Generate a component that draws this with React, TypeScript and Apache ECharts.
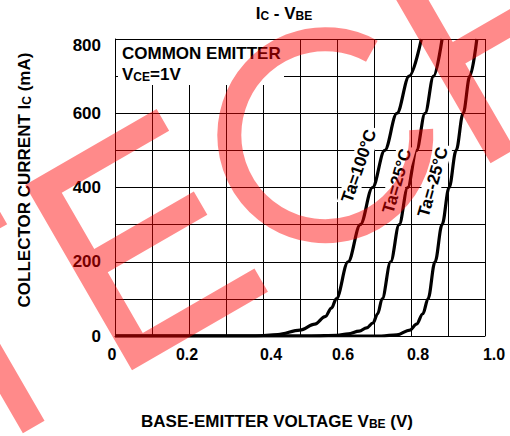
import React, { useEffect, useRef } from 'react';
import * as echarts from 'echarts';

const FONT = '"Liberation Sans", Arial, Helvetica, sans-serif';

// ---- data ----
const xTickLabels = ['0', '0.2', '0.4', '0.6', '0.8', '1.0'];
const yTickLabels = ['0', '200', '400', '600', '800'];
const seriesNames = ['Ta=100°C', 'Ta=25°C', 'Ta=-25°C'];

const vbe100 = [0, 0.38, 0.44, 0.5, 0.54, 0.568, 0.585, 0.598, 0.63, 0.663, 0.696, 0.729, 0.762, 0.795, 0.828];
const ic100 = [0, 0, 4, 16, 32, 52, 75, 100, 200, 300, 400, 500, 600, 700, 800];

const vbe25 = [0, 0.53, 0.6, 0.63, 0.66, 0.68, 0.697, 0.71, 0.722, 0.745, 0.768, 0.791, 0.815, 0.838, 0.861, 0.884];
const ic25 = [0, 0, 2, 6, 13, 22, 35, 60, 100, 200, 300, 400, 500, 600, 700, 800];

const vbeM25 = [0, 0.72, 0.762, 0.797, 0.815, 0.832, 0.846, 0.865, 0.884, 0.903, 0.922, 0.941, 0.959, 0.978];
const icM25 = [0, 0, 3, 16, 32, 60, 100, 200, 300, 400, 500, 600, 700, 800];

// ---- styling helpers (not data) ----
const xLabelPad = [
  [0, 6, 0, 0],
  [0, 4, 0, 0],
  [0, 0, 0, 16],
  [0, 0, 0, 12],
  [0, 0, 0, 14],
  [0, 0, 0, 18],
];

// watermark letters in a rotated letter frame
const WM_FILL = 'rgba(255,0,0,0.46)';
const C30 = Math.cos(Math.PI / 6);
const S30 = 0.5;
const wmPt = (p: number[]) => [25 + p[0] * C30 + p[1] * S30, 185 - p[0] * S30 + p[1] * C30];
const WM_T = [[-189, 0], [-35, 0], [-35, 25], [-101, 25], [-101, 214], [-126, 214], [-126, 25], [-189, 25]];
const WM_E = [[0, 0], [152, 0], [152, 25], [28, 25], [28, 90], [143, 90], [143, 117], [28, 117], [28, 187], [157, 187], [157, 214], [0, 214]];
const WM_H = [[414, -20], [442, -20], [442, 90], [640, 90], [640, 115], [442, 115], [442, 214], [414, 214]];

const zip = (xs: number[], ys: number[]) => xs.map((x, i) => [x, ys[i]]);

export default function App() {
  const ref = useRef<HTMLDivElement>(null);

  useEffect(() => {
    if (!ref.current) return;
    const chart = echarts.init(ref.current, null, { renderer: 'svg' });
    const D = Math.PI / 180;
    const cC = wmPt([285, 107]);

    const richX: Record<string, any> = {};
    xLabelPad.forEach((p, i) => {
      richX['n' + i] = { padding: p, fontSize: 16, fontWeight: 'bold', fontFamily: FONT, color: '#000' };
    });

    const lineSeries = [zip(vbe100, ic100), zip(vbe25, ic25), zip(vbeM25, icM25)].map((d, i) => ({
      type: 'line',
      name: seriesNames[i],
      data: d,
      showSymbol: false,
      smooth: 0.35,
      smoothMonotone: 'x',
      lineStyle: { color: '#000', width: 3.2 },
      z: 2,
      silent: true,
    }));

    const labelPos = [
      [359, 166, 71],
      [397, 181, 74],
      [433, 182, 74],
    ];

    const sub = (big: number, small: number) => ({
      b: { fontSize: big, fontWeight: 'bold', fontFamily: FONT, fill: '#000', verticalAlign: 'bottom' },
      s: { fontSize: small, fontWeight: 'bold', fontFamily: FONT, fill: '#000', verticalAlign: 'bottom' },
    });

    const option: any = {
      animation: false,
      grid: { left: 115, top: 39, right: 25, bottom: 100 },
      xAxis: {
        type: 'value',
        min: 0,
        max: 1,
        interval: 0.1,
        axisLine: { show: true, lineStyle: { color: '#000', width: 1 } },
        axisTick: { show: false },
        splitLine: { show: true, lineStyle: { color: '#000', width: 1 } },
        axisLabel: {
          margin: 10,
          fontSize: 16,
          fontWeight: 'bold',
          fontFamily: FONT,
          color: '#000',
          formatter: (v: number) => {
            const i = Math.round(v * 10);
            if (i % 2) return '';
            const k = i / 2;
            return `{n${k}|${xTickLabels[k]}}`;
          },
          rich: richX,
        },
      },
      yAxis: {
        type: 'value',
        min: 0,
        max: 800,
        interval: 100,
        axisLine: { show: true, lineStyle: { color: '#000', width: 1 } },
        axisTick: { show: false },
        splitLine: { show: true, lineStyle: { color: '#000', width: 1 } },
        axisLabel: {
          margin: 14,
          fontSize: 17,
          fontWeight: 'bold',
          fontFamily: FONT,
          color: '#000',
          formatter: (v: number) => {
            if (v % 200) return '';
            const s = yTickLabels[v / 200];
            return v === 800 ? `{t|${s}}` : s;
          },
          rich: {
            t: { padding: [12, 0, 0, 0], fontSize: 17, fontWeight: 'bold', fontFamily: FONT, color: '#000' },
          },
        },
      },
      series: lineSeries,
      graphic: [
        // box masking grid behind legend text
        { type: 'rect', shape: { x: 118, y: 40, width: 166, height: 45 }, style: { fill: '#fff' }, z: 1, silent: true },
        {
          type: 'text', x: 122, y: 53, z: 5,
          style: { text: 'COMMON EMITTER', font: `bold 17px ${FONT}`, fill: '#000', align: 'left', verticalAlign: 'middle', textAlign: 'left', textVerticalAlign: 'middle' },
        },
        {
          type: 'text', x: 122, y: 74, z: 5,
          style: {
            text: '{b|V}{s|CE}{b|=1V}', fill: '#000', align: 'left', verticalAlign: 'middle', textAlign: 'left', textVerticalAlign: 'middle',
            rich: sub(17, 12),
          },
        },
        // title
        {
          type: 'text', x: 284, y: 13, z: 5,
          style: {
            text: '{b|I}{s|C}{b| - V}{s|BE}', fill: '#000', align: 'center', verticalAlign: 'middle', textAlign: 'center', textVerticalAlign: 'middle',
            rich: sub(17, 12),
          },
        },
        // y axis name
        {
          type: 'text', x: 24, y: 180, rotation: Math.PI / 2, z: 5,
          style: {
            text: '{b|COLLECTOR CURRENT I}{s|C}{b| (mA)}', fill: '#000', align: 'center', verticalAlign: 'middle', textAlign: 'center', textVerticalAlign: 'middle',
            rich: sub(17, 12),
          },
        },
        // x axis name
        {
          type: 'text', x: 277, y: 421, z: 5,
          style: {
            text: '{b|BASE-EMITTER VOLTAGE V}{s|BE}{b| (V)}', fill: '#000', align: 'center', verticalAlign: 'middle', textAlign: 'center', textVerticalAlign: 'middle',
            rich: sub(17, 12),
          },
        },
        // curve labels
        ...seriesNames.map((n, i) => ({
          type: 'text', x: labelPos[i][0], y: labelPos[i][1], rotation: labelPos[i][2] * D, z: 5,
          style: {
            text: n, font: `bold 17px ${FONT}`, fill: '#000', align: 'center', verticalAlign: 'middle', textAlign: 'center', textVerticalAlign: 'middle',
            backgroundColor: '#fff', padding: [1, 3],
          },
        })),
        // watermark
        { type: 'polygon', shape: { points: WM_T.map(wmPt) }, style: { fill: WM_FILL }, z: 10, silent: true },
        { type: 'polygon', shape: { points: WM_E.map(wmPt) }, style: { fill: WM_FILL }, z: 10, silent: true },
        { type: 'polygon', shape: { points: WM_H.map(wmPt) }, style: { fill: WM_FILL }, z: 10, silent: true },
        {
          type: 'arc',
          shape: { cx: cC[0], cy: cC[1], r: 96, startAngle: -3.4 * D, endAngle: 299 * D, clockwise: true },
          style: { stroke: WM_FILL, lineWidth: 24, fill: 'none' },
          z: 10, silent: true,
        },
      ],
    };
    chart.setOption(option);
    return () => chart.dispose();
  }, []);

  return <div ref={ref} style={{ position: 'absolute', left: 0, top: 0, width: 510, height: 436, background: '#fff' }} />;
}
